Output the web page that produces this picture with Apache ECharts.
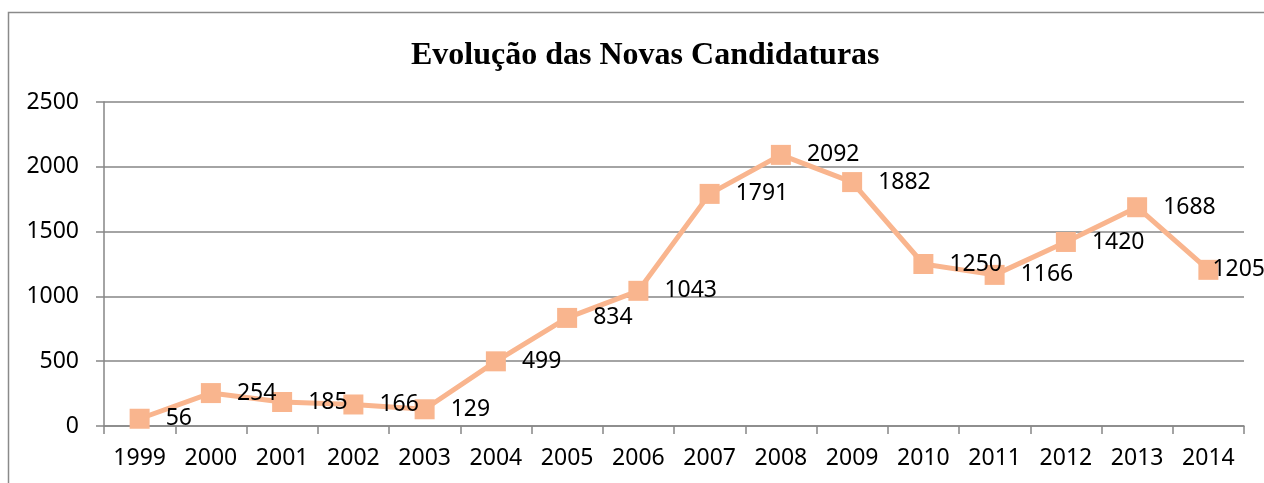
<!DOCTYPE html>
<html>
<head>
<meta charset="utf-8">
<script src="https://cdn.jsdelivr.net/npm/echarts@6/dist/echarts.min.js"></script>
<style>
html,body{margin:0;padding:0;background:#fff;}
#chart{width:1264px;height:483px;}
</style>
</head>
<body>
<div id="chart"></div>
<script>
const titleText = "Evolução das Novas Candidaturas";
const years = ["1999","2000","2001","2002","2003","2004","2005","2006","2007","2008","2009","2010","2011","2012","2013","2014"];
const candidaturas = [56,254,185,166,129,499,834,1043,1791,2092,1882,1250,1166,1420,1688,1205];
const yTicks = [0,500,1000,1500,2000,2500];

const lineColor = '#F9B58E';
const axisColor = '#868686';
const fontFam = '"Noto Sans", "Open Sans", sans-serif';

const seriesData = candidaturas.map((v, i) => {
  const item = { value: v };
  if (i === candidaturas.length - 1) {
    item.label = { offset: [-22, 0] };
  }
  return item;
});

const chart = echarts.init(document.getElementById('chart'), null, {renderer: 'canvas'});
chart.setOption({
  animation: false,
  backgroundColor: '#ffffff',
  title: {
    text: titleText,
    left: 406,
    top: 35,
    textStyle: {
      fontFamily: '"Liberation Serif", "Times New Roman", serif',
      fontWeight: 'bold',
      fontSize: 32,
      color: '#000'
    }
  },
  graphic: [{
    type: 'rect',
    shape: {x: 8.5, y: 12.5, width: 1400, height: 700},
    style: {fill: null, stroke: '#8a8a8a', lineWidth: 1.5},
    silent: true,
    z: -1
  }],
  grid: {left: 104, right: 20, top: 102, bottom: 57, containLabel: false},
  xAxis: {
    type: 'category',
    data: years,
    boundaryGap: true,
    axisLine: {show: true, lineStyle: {color: axisColor, width: 1.5}},
    axisTick: {show: true, length: 8, alignWithLabel: false, lineStyle: {color: axisColor, width: 1.5}},
    axisLabel: {margin: 21, color: '#000', fontFamily: fontFam, fontSize: 23}
  },
  yAxis: {
    type: 'value',
    min: yTicks[0],
    max: yTicks[yTicks.length - 1],
    interval: 500,
    axisLine: {show: true, lineStyle: {color: axisColor, width: 1.5}},
    axisTick: {show: true, length: 8, lineStyle: {color: axisColor, width: 1.5}},
    splitLine: {show: true, lineStyle: {color: axisColor, width: 1.5}},
    axisLabel: {margin: 25, color: '#000', fontFamily: fontFam, fontSize: 23, formatter: v => String(v)}
  },
  series: [{
    type: 'line',
    data: seriesData,
    symbol: 'rect',
    symbolSize: 20,
    showAllSymbol: true,
    lineStyle: {color: lineColor, width: 5},
    itemStyle: {color: lineColor},
    label: {
      show: true,
      position: 'right',
      distance: 16,
      color: '#000',
      fontFamily: fontFam,
      fontSize: 23
    }
  }]
});
</script>
</body>
</html>
